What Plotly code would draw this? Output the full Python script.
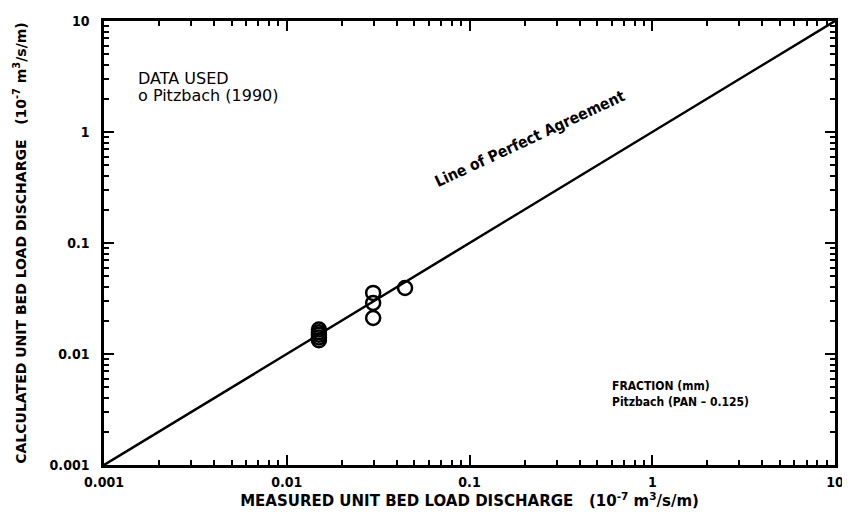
import plotly.graph_objects as go

# Data
measured = [0.015, 0.015, 0.015, 0.015, 0.015, 0.0297, 0.0297, 0.0297, 0.0444]
calculated = [0.0133, 0.0141, 0.0149, 0.0157, 0.0166, 0.0355, 0.0288, 0.0211, 0.0393]
perfect_x = [0.001, 10]
perfect_y = [0.001, 10]
decade_vals = [0.001, 0.01, 0.1, 1, 10]
decade_text = ["0.001", "0.01", "0.1", "1", "10"]

FONT = "DejaVu Sans Condensed, DejaVu Sans, sans-serif"
WIDE = "DejaVu Sans, sans-serif"

fig = go.Figure()
fig.add_trace(go.Scatter(x=perfect_x, y=perfect_y, mode="lines",
                         line=dict(color="black", width=2.5), hoverinfo="skip"))
fig.add_trace(go.Scatter(x=measured, y=calculated, mode="markers",
                         marker=dict(symbol="circle-open", size=14, color="black",
                                     line=dict(width=2.5, color="black"))))
fig.add_trace(go.Scatter(x=perfect_x, y=perfect_y, xaxis="x2", yaxis="y2", mode="lines",
                         line=dict(width=0, color="rgba(0,0,0,0)"), hoverinfo="skip"))

major_axis = dict(
    type="log", range=[-3, 1], showline=True, linecolor="black", linewidth=2.5,
    mirror="allticks", ticks="inside", ticklen=10, tickwidth=2, tickcolor="black",
    showgrid=False, zeroline=False, tickmode="array", tickvals=decade_vals, ticktext=decade_text,
    tickfont=dict(family=FONT, size=14, color="black", weight="bold"),
    automargin=False,
)
minor_axis = dict(
    type="log", range=[-3, 1], showline=False, mirror="allticks", ticks="inside",
    ticklen=5, tickwidth=1.5, tickcolor="black", showgrid=False, zeroline=False,
    tickmode="linear", dtick="D1", showticklabels=False, automargin=False,
)

fig.update_layout(
    xaxis=dict(**major_axis, ticklabelstandoff=2,
               title=dict(text="MEASURED UNIT BED LOAD DISCHARGE   (10<sup>-7</sup> m<sup>3</sup>/s/m)",
                          font=dict(family=WIDE, size=15, color="black", weight="bold"),
                          standoff=0)),
    yaxis=dict(**major_axis, ticklabelstandoff=9,
               title=dict(text="CALCULATED UNIT BED LOAD DISCHARGE   (10<sup>-7</sup> m<sup>3</sup>/s/m)",
                          font=dict(family=WIDE, size=14, color="black", weight="bold"),
                          standoff=20)),
    xaxis2=dict(**minor_axis, overlaying="x", anchor="y2", side="bottom"),
    yaxis2=dict(**minor_axis, overlaying="y", anchor="x2", side="left"),
)

fig.add_annotation(xref="paper", yref="paper", x=0.045, y=0.870, xanchor="left", yanchor="middle",
                   text="DATA USED", showarrow=False, align="left", borderpad=0,
                   font=dict(family=WIDE, size=16, color="black"))
fig.add_annotation(xref="paper", yref="paper", x=0.045, y=0.832, xanchor="left", yanchor="middle",
                   text="o Pitzbach (1990)", showarrow=False, align="left", borderpad=0,
                   font=dict(family=WIDE, size=16, color="black"))
fig.add_annotation(xref="paper", yref="paper", x=0.694, y=0.16, xanchor="left", yanchor="middle",
                   text="FRACTION (mm)<br>Pitzbach (PAN \u2013 0.125)", showarrow=False, align="left",
                   borderpad=0, font=dict(family=FONT, size=12, color="black", weight="bold"))
fig.add_annotation(xref="x", yref="y", x=-0.67, y=-0.06, text="Line of Perfect Agreement",
                   showarrow=False, textangle=-25,
                   font=dict(family=FONT, size=15.5, color="black", weight="bold"))

fig.update_layout(width=850, height=515, margin=dict(l=96, r=23, t=13, b=58),
                  paper_bgcolor="white", plot_bgcolor="white", showlegend=False)

fig.write_html("out.html")
